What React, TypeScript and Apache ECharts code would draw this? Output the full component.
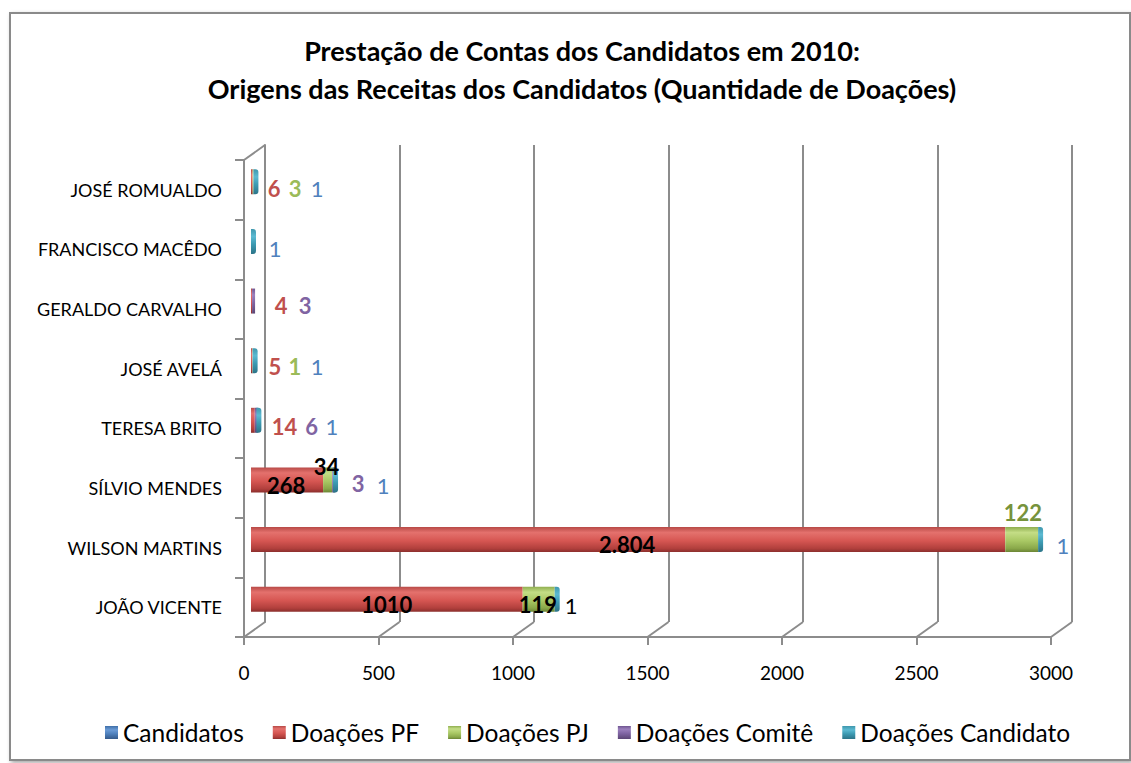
import React, { useEffect, useRef } from "react";
import * as echarts from "echarts";

// ---------- data ----------
const categories = [
  "JOÃO VICENTE",
  "WILSON MARTINS",
  "SÍLVIO MENDES",
  "TERESA BRITO",
  "JOSÉ AVELÁ",
  "GERALDO CARVALHO",
  "FRANCISCO MACÊDO",
  "JOSÉ ROMUALDO",
];
const seriesNames = ["Candidatos", "Doações PF", "Doações PJ", "Doações Comitê", "Doações Candidato"];
const candidatos: (number | null)[] = [null, null, null, null, null, null, null, null];
const doacoesPF: (number | null)[] = [1010, 2804, 268, 14, 5, 4, null, 6];
const doacoesPJ: (number | null)[] = [119, 122, 34, null, 1, null, null, 3];
const doacoesComite: (number | null)[] = [null, null, 3, 6, null, 3, null, null];
const doacoesCandidato: (number | null)[] = [1, 1, 1, 1, 1, null, 1, 1];
const pfLabelText = ["1010", "2.804", "268", "14", "5", "4", "", "6"];
const xTicks = [0, 500, 1000, 1500, 2000, 2500, 3000];

// ---------- styles (label placement per item) ----------
type LS = [number, number, string, string] | null; // dx, dy, color, weight
const pfLabelStyle: LS[] = [
  [0, 5.5, "#000", "bold"],
  [-1, 5, "#000", "bold"],
  [-1, 5.5, "#000", "bold"],
  [31.6, 6, "#C0504D", "bold"],
  [23.3, 5.5, "#C0504D", "bold"],
  [29.5, 4, "#C0504D", "bold"],
  null,
  [22.2, 6.4, "#C0504D", "bold"],
];
const pjLabelStyle: LS[] = [
  [-0.7, 5.5, "#000", "bold"],
  [1.3, -27.5, "#77933C", "bold"],
  [-1.2, -13.3, "#000", "bold"],
  null,
  [42.5, 5.5, "#9BBB59", "bold"],
  null,
  null,
  [42, 6.4, "#9BBB59", "bold"],
];
const comiteLabelStyle: LS[] = [
  null,
  null,
  [24.4, 3.2, "#8064A2", "bold"],
  [55.4, 6, "#8064A2", "bold"],
  null,
  [51.5, 4, "#8064A2", "bold"],
  null,
  null,
];
const candLabelStyle: LS[] = [
  [13.8, 6.5, "#000", "normal"],
  [22.4, 6, "#4F81BD", "normal"],
  [47.5, 5.7, "#4F81BD", "normal"],
  [73.1, 6, "#4F81BD", "normal"],
  [61.9, 5.5, "#4F81BD", "normal"],
  null,
  [21.5, 7.3, "#4F81BD", "normal"],
  [61.1, 6.4, "#4F81BD", "normal"],
];

const FRONT = { left: 244, top: 160, width: 807, height: 477 };
const BACK = { left: 265, top: 145, width: 807, height: 477 };
const MID = { left: 251, top: 152, width: 807, height: 477 };
const GRID_COLOR = "#8c8c8c";

function grad(stops: [number, string][]) {
  return new echarts.graphic.LinearGradient(
    0, 0, 0, 1,
    stops.map(([offset, color]) => ({ offset, color }))
  );
}

const fills = {
  blue: grad([[0, "#3f6fa8"], [0.3, "#6b9bd6"], [0.6, "#4f81bd"], [1, "#34598a"]]),
  red: grad([[0, "#b84a47"], [0.22, "#e4716d"], [0.55, "#d65652"], [0.85, "#b2403d"], [1, "#8c2f2d"]]),
  green: grad([[0, "#8fae4f"], [0.22, "#c4dd86"], [0.55, "#a9c864"], [0.85, "#8aa84a"], [1, "#6b8535"]]),
  purple: grad([[0, "#6f5590"], [0.25, "#9b80bd"], [0.6, "#7d62a0"], [1, "#5b4675"]]),
  teal: grad([[0, "#3f97ad"], [0.3, "#5cbad2"], [0.6, "#3d9bb3"], [1, "#2c7488"]]),
};

function buildData(values: (number | null)[], styles: LS[], texts?: string[]) {
  return values.map((v, i) => {
    const s = styles[i];
    if (v === null) return { value: null };
    const item: any = { value: v };
    if (s) {
      item.label = {
        show: true,
        position: "inside",
        offset: [s[0], s[1]],
        color: s[2],
        fontWeight: s[3],
        fontSize: 22,
        fontFamily: "Lato",
        formatter: texts ? texts[i] : String(v),
      };
    }
    return item;
  });
}

export default function App() {
  const ref = useRef<HTMLDivElement>(null);
  useEffect(() => {
    document.body.style.margin = "0";
    const chart = echarts.init(ref.current!, undefined, { renderer: "svg" });
    const dx = BACK.left - FRONT.left;
    const dy = BACK.top - FRONT.top;

    const option: any = {
      animation: false,
      backgroundColor: "#ffffff",
      textStyle: { fontFamily: "Lato" },
      title: {
        text: "Prestação de Contas dos Candidatos em 2010:\nOrigens das Receitas dos Candidatos (Quantidade de Doações)",
        left: 577,
        top: 26,
        textAlign: "center",
        textStyle: { fontFamily: "Lato", fontSize: 27, fontWeight: "bold", color: "#000", lineHeight: 38 },
      },
      legend: {
        data: seriesNames,
        top: 715,
        left: 100,
        itemWidth: 13,
        itemHeight: 13,
        itemGap: 29,
        icon: "rect",
        textStyle: { fontFamily: "Lato", fontSize: 24.5, color: "#000" },
      },
      graphic: [
        {
          type: "rect",
          z: -10,
          shape: { x: 10, y: 13, width: 1120, height: 747 },
          style: {
            fill: "#fff",
            stroke: "#8a8a8a",
            lineWidth: 2,
            shadowBlur: 4,
            shadowOffsetX: 2,
            shadowOffsetY: 2,
            shadowColor: "rgba(0,0,0,0.35)",
          },
        },
      ],
      grid: [
        { ...FRONT, containLabel: false },
        { ...BACK, containLabel: false },
        { ...MID, containLabel: false },
      ],
      xAxis: [
        {
          gridIndex: 0,
          type: "value",
          min: 0,
          max: 3000,
          interval: 500,
          axisLine: { show: true, lineStyle: { color: GRID_COLOR, width: 2 } },
          axisTick: { show: true, length: 8, lineStyle: { color: GRID_COLOR, width: 2 } },
          axisLabel: { color: "#000", fontSize: 19, margin: 26, fontFamily: "Lato", formatter: (v: number) => String(v) },
          splitLine: { show: false },
        },
        {
          gridIndex: 1,
          type: "value",
          min: 0,
          max: 3000,
          interval: 500,
          axisLine: { show: false },
          axisTick: { show: false },
          axisLabel: { show: false },
          splitLine: { show: true, lineStyle: { color: GRID_COLOR, width: 2 } },
        },
        {
          gridIndex: 2,
          type: "value",
          min: 0,
          max: 3000,
          show: false,
        },
      ],
      yAxis: [
        {
          gridIndex: 0,
          type: "category",
          data: categories,
          axisLine: { show: true, lineStyle: { color: GRID_COLOR, width: 2 } },
          axisTick: { show: true, length: 9, lineStyle: { color: GRID_COLOR, width: 2 } },
          axisLabel: { color: "#000", fontSize: 18, margin: 22, fontFamily: "Lato" },
          splitLine: { show: false },
        },
        {
          gridIndex: 1,
          type: "category",
          data: categories,
          axisLine: { show: true, lineStyle: { color: GRID_COLOR, width: 2 } },
          axisTick: { show: false },
          axisLabel: { show: false },
          splitLine: { show: false },
        },
        {
          gridIndex: 2,
          type: "category",
          data: categories,
          show: false,
        },
      ],
      series: [
        {
          type: "custom",
          name: "floor",
          xAxisIndex: 0,
          yAxisIndex: 0,
          silent: true,
          z: 1,
          data: xTicks.map((v) => [v, 0]),
          renderItem: (params: any, api: any) => {
            const cs = params.coordSys;
            const x = api.coord([api.value(0), 0])[0];
            const bottom = cs.y + cs.height;
            const children: any[] = [
              {
                type: "line",
                shape: { x1: x, y1: bottom, x2: x + dx, y2: bottom + dy },
                style: { stroke: GRID_COLOR, lineWidth: 2 },
              },
            ];
            if (params.dataIndex === 0) {
              children.push({
                type: "line",
                shape: { x1: cs.x, y1: cs.y, x2: cs.x + dx, y2: cs.y + dy },
                style: { stroke: GRID_COLOR, lineWidth: 2 },
              });
            }
            return { type: "group", children };
          },
        },
        {
          name: seriesNames[0],
          type: "bar",
          stack: "total",
          xAxisIndex: 2,
          yAxisIndex: 2,
          barWidth: 25,
          itemStyle: { color: fills.blue },
          data: candidatos,
        },
        {
          name: seriesNames[1],
          type: "bar",
          stack: "total",
          xAxisIndex: 2,
          yAxisIndex: 2,
          barWidth: 25,
          itemStyle: { color: fills.red },
          data: buildData(doacoesPF, pfLabelStyle, pfLabelText),
        },
        {
          name: seriesNames[2],
          type: "bar",
          stack: "total",
          xAxisIndex: 2,
          yAxisIndex: 2,
          barWidth: 25,
          itemStyle: { color: fills.green },
          data: buildData(doacoesPJ, pjLabelStyle),
        },
        {
          name: seriesNames[3],
          type: "bar",
          stack: "total",
          xAxisIndex: 2,
          yAxisIndex: 2,
          barWidth: 25,
          barMinHeight: 3,
          itemStyle: { color: fills.purple },
          data: buildData(doacoesComite, comiteLabelStyle),
        },
        {
          name: seriesNames[4],
          type: "bar",
          stack: "total",
          xAxisIndex: 2,
          yAxisIndex: 2,
          barWidth: 25,
          barMinHeight: 5,
          itemStyle: { color: fills.teal, borderRadius: [0, 3, 3, 0] },
          data: buildData(doacoesCandidato, candLabelStyle),
        },
      ],
    };
    chart.setOption(option);
    return () => chart.dispose();
  }, []);
  return <div ref={ref} style={{ width: 1131, height: 763 }} />;
}
